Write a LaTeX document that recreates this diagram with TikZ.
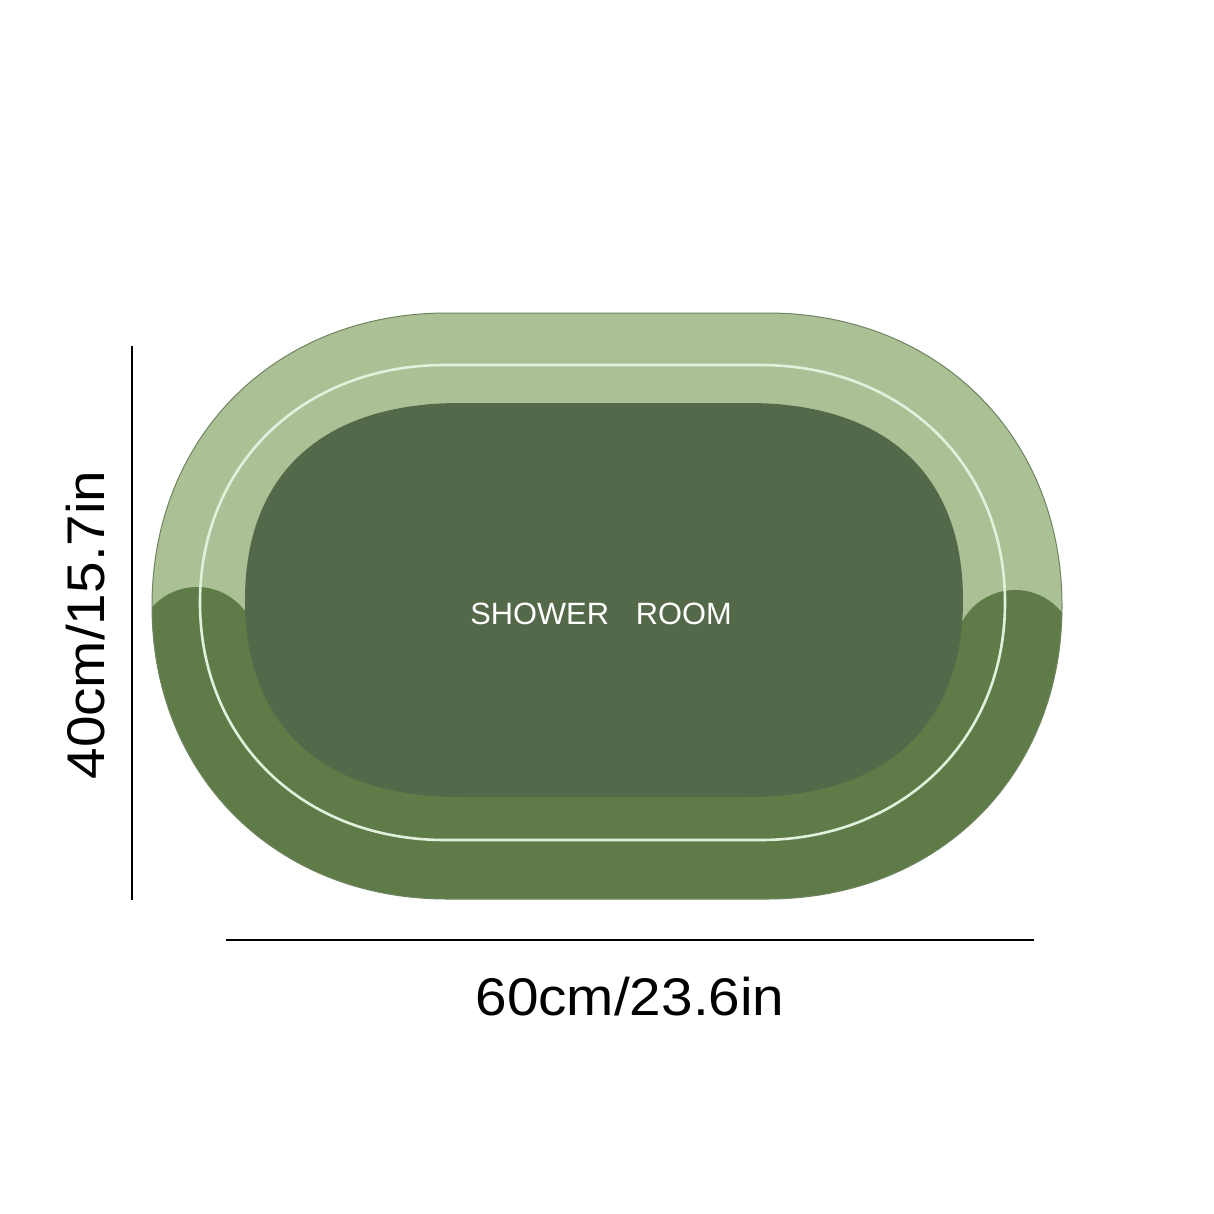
\documentclass[tikz,border=0pt]{standalone}
\usepackage{fontspec}
\setmainfont{Liberation Sans}
\definecolor{lightg}{HTML}{ACC096}
\definecolor{midg}{HTML}{5F7C48}
\definecolor{darkg}{HTML}{536949}
\definecolor{lineg}{HTML}{E2F1DC}
\definecolor{edgeg}{HTML}{6E8560}
% #1 cx, #2 cy, #3 half width, #4 half height, #5 corner run, #6 control factor
\newcommand{\matshape}[6]{({#1-#3},{#2})
 .. controls ({#1-#3},{#2-#6*#4}) and ({#1-#3+#5-#6*#5},{#2-#4}) .. ({#1-#3+#5},{#2-#4})
 -- ({#1+#3-#5},{#2-#4})
 .. controls ({#1+#3-#5+#6*#5},{#2-#4}) and ({#1+#3},{#2-#6*#4}) .. ({#1+#3},{#2})
 .. controls ({#1+#3},{#2+#6*#4}) and ({#1+#3-#5+#6*#5},{#2+#4}) .. ({#1+#3-#5},{#2+#4})
 -- ({#1-#3+#5},{#2+#4})
 .. controls ({#1-#3+#5-#6*#5},{#2+#4}) and ({#1-#3},{#2+#6*#4}) .. cycle}
\tikzset{
  dimline/.style={draw=black, line width=1.1pt},
  dimtext/.style={font=\fontsize{26.5}{30}\selectfont, inner sep=0pt, text=black},
  mattext/.style={font=\fontsize{15.4}{18}\selectfont, inner sep=0pt, text=white}
}
\begin{document}
\begin{tikzpicture}[x=0.5pt,y=-0.5pt]
\useasboundingbox (0,0) rectangle (1214,1214);
\fill[white] (0,0) rectangle (1214,1214);
% outer mat
\fill[lightg] \matshape{607}{606}{455}{293}{295}{0.58};
\begin{scope}
  \clip \matshape{607}{606}{455}{293}{295}{0.58};
  \fill[midg] (0,647) rectangle (1214,1214);
  \fill[midg] (197,647) circle[radius=60];
  \fill[midg] (1015,650) circle[radius=60];
\end{scope}
\draw[edgeg, line width=0.5pt] \matshape{607}{606}{455}{293}{295}{0.58};
% inner dark panel
\fill[darkg] \matshape{604}{600}{359}{197}{215}{0.64};
% white line
\draw[lineg, line width=1.3pt] \matshape{602.5}{602.5}{402.5}{237.5}{245}{0.58};
% text on mat
\node[mattext, anchor=base west] (title) at (470,624) {SHOWER\hspace{13.5pt}ROOM};
% dimension lines
\coordinate (vtop) at (132,346);
\coordinate (vbot) at (132,900);
\coordinate (hleft) at (226,940);
\coordinate (hright) at (1034,940);
\draw[dimline] (vtop) -- (vbot);
\draw[dimline] (hleft) -- (hright);
\node[dimtext, anchor=base] (wlabel) at (630,1015) {\scalebox{1.07}[1]{60cm/23.6in}};
\node[dimtext, anchor=base, rotate=90] (hlabel) at (104,625) {\scalebox{1.07}[1]{40cm/15.7in}};
\end{tikzpicture}
\end{document}
